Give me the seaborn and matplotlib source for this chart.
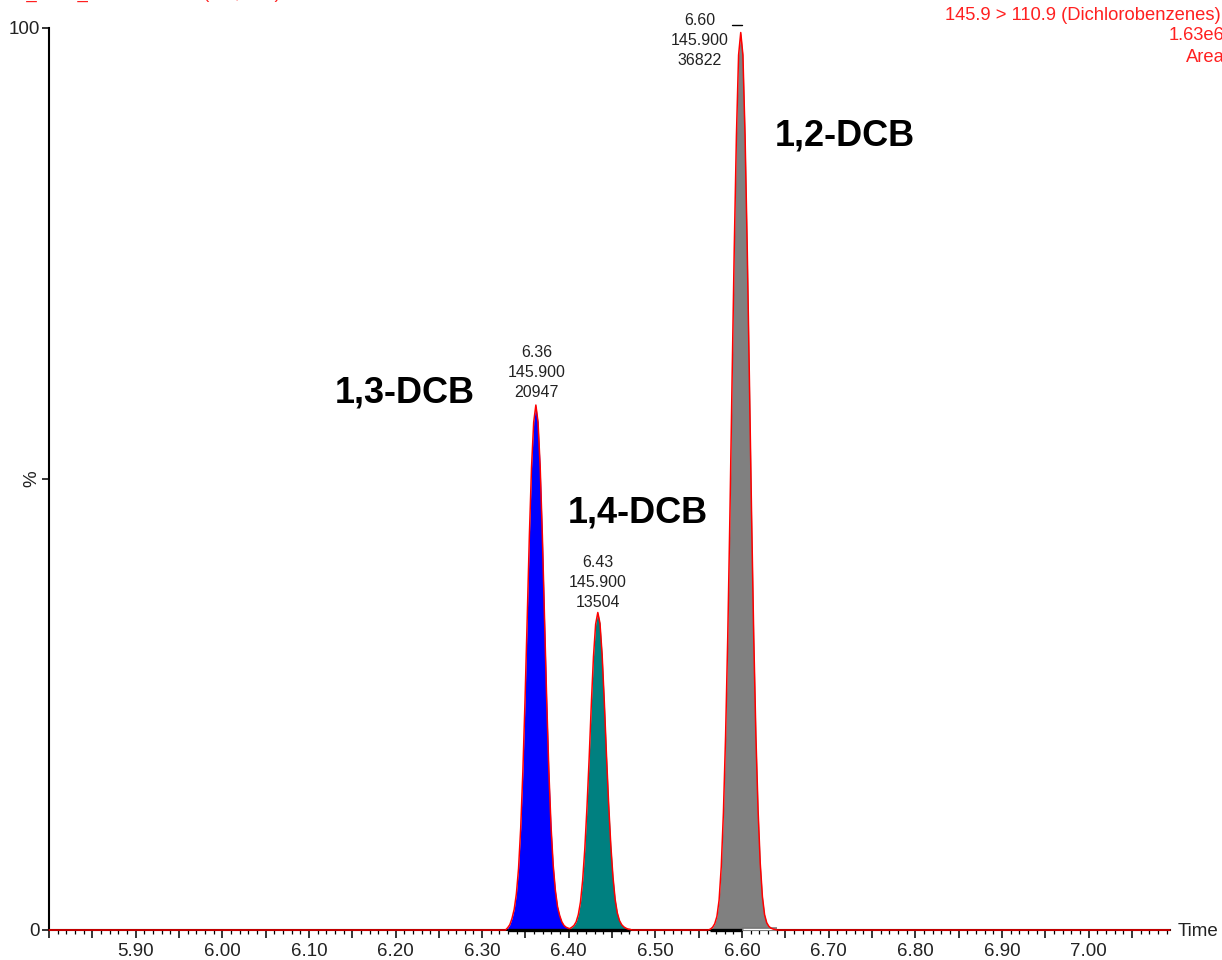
import matplotlib
matplotlib.use("Agg")
import numpy as np
import pandas as pd
import matplotlib.pyplot as plt
import seaborn as sns
from matplotlib.ticker import MultipleLocator, FuncFormatter

# ---------------- data ----------------
# 1,3-DCB peak (blue)
blue_time = [6.3295, 6.3320, 6.3345, 6.3370, 6.3395, 6.3420, 6.3445, 6.3470, 6.3495,
             6.3520, 6.3545, 6.3570, 6.3595, 6.3620, 6.3645, 6.3670, 6.3695, 6.3720,
             6.3745, 6.3770, 6.3795, 6.3820, 6.3845, 6.3870, 6.3895, 6.3920, 6.3945,
             6.3970, 6.3995]
blue_int = [0.25, 0.6, 1.3, 2.3, 4.0, 6.8, 11.3, 17.6, 25.5, 34.5, 43.7, 51.3, 56.3, 58.2,
            56.3, 51.3, 43.7, 34.5, 25.5, 17.6, 11.5, 7.2, 4.4, 2.6, 1.6, 0.9, 0.5, 0.3, 0.2]

# 1,4-DCB peak (teal)
teal_time = [6.4010, 6.4035, 6.4060, 6.4085, 6.4110, 6.4135, 6.4160, 6.4185, 6.4210,
             6.4235, 6.4260, 6.4285, 6.4310, 6.4335, 6.4360, 6.4385, 6.4410, 6.4435,
             6.4460, 6.4485, 6.4510, 6.4535, 6.4560, 6.4585, 6.4610, 6.4635, 6.4660,
             6.4685, 6.4710]
teal_int = [0.15, 0.3, 0.5, 0.9, 1.7, 3.1, 5.5, 9.0, 13.6, 19.0, 25.0, 30.3, 33.9, 35.2,
            34.0, 30.5, 25.3, 19.4, 14.0, 9.4, 5.9, 3.4, 1.9, 1.05, 0.6, 0.35, 0.2, 0.1, 0.05]

# 1,2-DCB peak (gray)
gray_time = [6.5635, 6.5660, 6.5685, 6.5710, 6.5735, 6.5760, 6.5785, 6.5810, 6.5835,
             6.5860, 6.5885, 6.5910, 6.5935, 6.5960, 6.5985, 6.6010, 6.6035, 6.6060,
             6.6085, 6.6110, 6.6135, 6.6160, 6.6185, 6.6210, 6.6235, 6.6260, 6.6285,
             6.6310, 6.6335, 6.6360, 6.6385, 6.6410]
gray_int = [0.1, 0.3, 0.7, 1.5, 3.3, 7.0, 13.0, 21.5, 32.5, 46.0, 61.0, 75.5, 88.0, 97.0,
            99.5, 97.0, 88.0, 75.5, 61.0, 46.0, 32.5, 21.5, 13.3, 7.4, 3.7, 1.7, 0.8, 0.4,
            0.2, 0.1, 0.05, 0.0]

# flat baseline points of the trace
base_time = [5.80, 6.327, 6.4735, 6.561, 7.094]
base_int = [0.0, 0.0, 0.0, 0.0, 0.0]

peak_rt = ["6.36", "6.43", "6.60"]
peak_mass = ["145.900", "145.900", "145.900"]
peak_area = ["20947", "13504", "36822"]
compound_names = ["1,3-DCB", "1,4-DCB", "1,2-DCB"]

channel_title = "145.9 > 110.9 (Dichlorobenzenes)"
channel_scale = "1.63e6"
channel_mode = "Area"
sample_header = "S1_1000_DCBmix1 Sm (Mn, 2x3)"

y_tick_values = [0, 50, 100]
y_tick_labels = ["0", "%", "100"]

# ---------------- build trace ----------------
trace = pd.DataFrame({
    "time": base_time + blue_time + teal_time + gray_time,
    "intensity": base_int + blue_int + teal_int + gray_int,
}).sort_values("time").reset_index(drop=True)

sns.set_theme(style="white")
plt.rcParams['font.family'] = ['Liberation Sans', 'DejaVu Sans']

W, H = 1222, 960
fig = plt.figure(figsize=(W / 100, H / 100), dpi=100)
ax = fig.add_axes([49 / W, (H - 930) / H, (1170 - 49) / W, (930 - 28) / H])

# filled peaks
ax.fill_between(blue_time, blue_int, 0, color="#0000FF", lw=0, zorder=2)
ax.fill_between(teal_time, teal_int, 0, color="#008080", lw=0, zorder=2)
ax.fill_between(gray_time, gray_int, 0, color="#808080", lw=0, zorder=2)

# integration baselines
ax.plot([blue_time[0], teal_time[-1]], [0, 0], color="black", lw=2.4, zorder=3,
        clip_on=False, solid_capstyle="butt")
ax.plot([gray_time[0], 6.600], [0, 0], color="black", lw=2.4, zorder=3,
        clip_on=False, solid_capstyle="butt")
ax.plot([6.600, 6.640], [0.15, 0.15], color="#777777", lw=2.6, zorder=3,
        clip_on=False, solid_capstyle="butt")
ax.plot([6.601, 6.639], [0.15, 0.15], color="white", lw=0.9, zorder=3,
        clip_on=False, solid_capstyle="butt")

# the trace
sns.lineplot(data=trace, x="time", y="intensity", color="#FF0000", lw=1.1,
             estimator=None, sort=False, ax=ax, zorder=4)
for ln in ax.lines:
    ln.set_clip_on(False)

# apex marker of the tallest peak
ax.plot([6.5882, 6.5998], [100.35, 100.35], color="black", lw=1.0, clip_on=False, zorder=5)

ax.set_xlim(5.80, 7.094)
ax.set_ylim(0, 100)
ax.set_xlabel("")
ax.set_ylabel("")

# axes styling
sns.despine(ax=ax)
for side in ["left", "bottom"]:
    ax.spines[side].set_color("black")
    ax.spines[side].set_linewidth(1.5)
    ax.spines[side].set_zorder(1)

ax.xaxis.set_major_locator(MultipleLocator(0.05))
ax.xaxis.set_minor_locator(MultipleLocator(0.01))
ax.xaxis.set_major_formatter(FuncFormatter(
    lambda v, p: f"{v:.2f}" if (int(round(v * 100)) % 10 == 0 and v > 5.85) else ""))
ax.tick_params(axis="x", which="major", direction="out", length=6, width=1.1,
               color="black", labelsize=13.5, pad=3, labelcolor="#222222", bottom=True)
ax.tick_params(axis="x", which="minor", direction="out", length=3, width=0.9,
               color="black", bottom=True)

ax.set_yticks(y_tick_values)
ax.set_yticklabels(y_tick_labels)
ax.tick_params(axis="y", which="major", direction="out", length=5, width=1.1,
               color="black", labelsize=13.5, pad=1.5, labelcolor="#222222", left=True)
ax.get_yticklabels()[1].set_rotation(90)
ax.get_yticklabels()[1].set_va("center")
ax.grid(False)

# peak annotations
ann_pos = [(6.363, 58.8), (6.4334, 35.5), (6.5513, 95.6)]
for (tx, ty), rt, ms, ar in zip(ann_pos, peak_rt, peak_mass, peak_area):
    ax.text(tx, ty, f"{rt}\n{ms}\n{ar}", ha="center", va="bottom", fontsize=11.5,
            color="#222222", linespacing=1.4, zorder=6)

name_pos = [(6.1298, 59.5), (6.3988, 46.2), (6.6379, 88.0)]
for (tx, ty), nm in zip(name_pos, compound_names):
    ax.text(tx, ty, nm, ha="left", va="center", fontsize=26, fontweight="bold",
            color="black", zorder=6)

# header texts (partly outside the canvas, as in the source screenshot)
fig.text(945 / W, 1 - 15 / H, channel_title, ha="left", va="center", fontsize=13.2, color="#FF2020")
fig.text(1169 / W, 1 - 36 / H, channel_scale, ha="left", va="center", fontsize=13.2, color="#FF2020")
fig.text(1186 / W, 1 - 57 / H, channel_mode, ha="left", va="center", fontsize=13.2, color="#FF2020")
fig.text(4 / W, 1 + 2.5 / H, sample_header, ha="left", va="baseline", fontsize=13.2, color="#FF2020")

fig.text(1178 / W, (H - 931) / H, "Time", ha="left", va="center", fontsize=13.5, color="#222222")

fig.savefig("out.png", dpi=100)
